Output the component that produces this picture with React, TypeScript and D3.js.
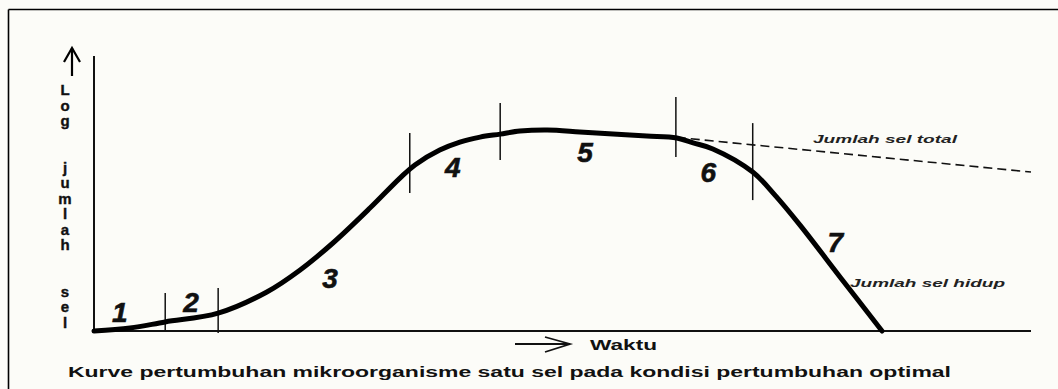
import React from 'react';
import * as d3 from 'd3';

// growth curve (time units, log cell count)
const liveTime = [0, 0.77, 1.52, 2.65, 3.69, 4.4, 5.1, 5.89, 6.53, 6.85, 7.38, 7.81, 8.24, 8.67, 9.09, 9.67, 10.37, 11.08, 11.8, 12.44, 12.79, 13.21, 14.06, 14.53, 15.07, 15.94, 16.82];
const liveLog = [0, 0.11, 0.33, 0.65, 1.42, 2.22, 3.2, 4.47, 5.56, 6.04, 6.58, 6.87, 7.05, 7.16, 7.27, 7.31, 7.24, 7.16, 7.09, 7.02, 6.84, 6.62, 5.78, 4.95, 3.85, 1.93, 0];

// total cells (dashed)
const totalTime = [12.44, 20];
const totalLog = [7.04, 5.78];

// phase boundaries
const phaseTimes = [1.52, 2.65, 6.74, 8.67, 12.42, 14.06];
const phaseTop = [1.38, 1.56, 7.2, 8.29, 8.51, 7.56];
const phaseBottom = [0, -0.07, 5.02, 6.22, 6.33, 4.76];

// phase numbers
const phaseNames = ['1', '2', '3', '4', '5', '6', '7'];
const phaseLabelT = [0.55, 2.07, 5.04, 7.66, 10.48, 13.11, 15.82];
const phaseLabelV = [0.33, 0.69, 1.56, 5.6, 6.15, 5.42, 2.87];

const yTitle = ['L', 'o', 'g', '', '', 'j', 'u', 'm', 'l', 'a', 'h', '', '', 's', 'e', 'l'];
const caption = 'Kurve pertumbuhan mikroorganisme satu sel pada kondisi pertumbuhan optimal';

const W = 1058;
const H = 389;

export default function App() {
  const x = d3.scaleLinear().domain([0, 20]).range([94, 1031]);
  const y = d3.scaleLinear().domain([0, 10]).range([331, 56]);

  const live = liveTime.map((t, i) => [t, liveLog[i]] as [number, number]);
  const total = totalTime.map((t, i) => [t, totalLog[i]] as [number, number]);

  const line = d3.line<[number, number]>()
    .x(d => x(d[0]))
    .y(d => y(d[1]))
    .curve(d3.curveCatmullRom.alpha(0.5));

  const font = '"Liberation Sans", Arial, sans-serif';

  return (
    <svg width={W} height={H} style={{ position: 'absolute', left: 0, top: 0, background: '#fcfcf8' }}>
      {/* frame */}
      <line x1={8.5} y1={9.5} x2={W} y2={9.5} stroke="#000" strokeWidth={1.6} />
      <line x1={8.5} y1={9.5} x2={8.5} y2={H} stroke="#000" strokeWidth={1.6} />

      {/* axes */}
      <line x1={x(0)} y1={y(0)} x2={x(20)} y2={y(0)} stroke="#111" strokeWidth={2} />
      <line x1={x(0)} y1={y(0) + 1} x2={x(0)} y2={y(10)} stroke="#111" strokeWidth={2} />

      {/* y arrow and title */}
      <g stroke="#000" strokeWidth={2.2} fill="none">
        <line x1={72} y1={48} x2={72} y2={76} />
        <polyline points="64,62 72,48 80,62" />
      </g>
      {yTitle.map((c, i) => (
        <text key={i} x={65} y={95 + i * 15.5} textAnchor="middle" fontFamily={font}
          fontWeight="bold" fontSize={15} fill="#111" stroke="#111" strokeWidth={0.4}>{c}</text>
      ))}

      {/* phase markers */}
      {phaseTimes.map((t, i) => (
        <line key={i} x1={x(t)} x2={x(t)} y1={y(phaseTop[i])} y2={y(phaseBottom[i])}
          stroke="#111" strokeWidth={1.5} />
      ))}

      {/* curves */}
      <path d={line(total) || ''} fill="none" stroke="#111" strokeWidth={1.6} strokeDasharray="9,5" />
      <path d={line(live) || ''} fill="none" stroke="#000" strokeWidth={5} strokeLinecap="round" strokeLinejoin="round" />

      {/* phase numbers */}
      {phaseNames.map((n, i) => (
        <text key={n} x={x(phaseLabelT[i])} y={y(phaseLabelV[i])} textAnchor="middle"
          fontFamily={font} fontWeight="bold" fontStyle="italic" fontSize={28} fill="#111"
          stroke="#111" strokeWidth={0.6}>{n}</text>
      ))}

      {/* curve labels */}
      <text x={813} y={143} fontFamily={font} fontStyle="italic" fontWeight="bold" fontSize={11.5}
        textLength={144} lengthAdjust="spacingAndGlyphs" fill="#222">Jumlah sel total</text>
      <text x={850} y={287} fontFamily={font} fontStyle="italic" fontWeight="bold" fontSize={11.5}
        textLength={155} lengthAdjust="spacingAndGlyphs" fill="#222">Jumlah sel hidup</text>

      {/* x arrow and title */}
      <g stroke="#111" strokeWidth={1.8} fill="none">
        <line x1={515} y1={344} x2={570} y2={344} />
        <polyline points="545,337 570,344 545,352" />
      </g>
      <text x={590} y={350} fontFamily={font} fontWeight="bold" fontSize={14}
        textLength={67} lengthAdjust="spacingAndGlyphs" fill="#111">Waktu</text>

      {/* caption */}
      <text x={68} y={377} fontFamily={font} fontWeight="bold" fontSize={14}
        textLength={883} lengthAdjust="spacingAndGlyphs" fill="#111">{caption}</text>
    </svg>
  );
}
